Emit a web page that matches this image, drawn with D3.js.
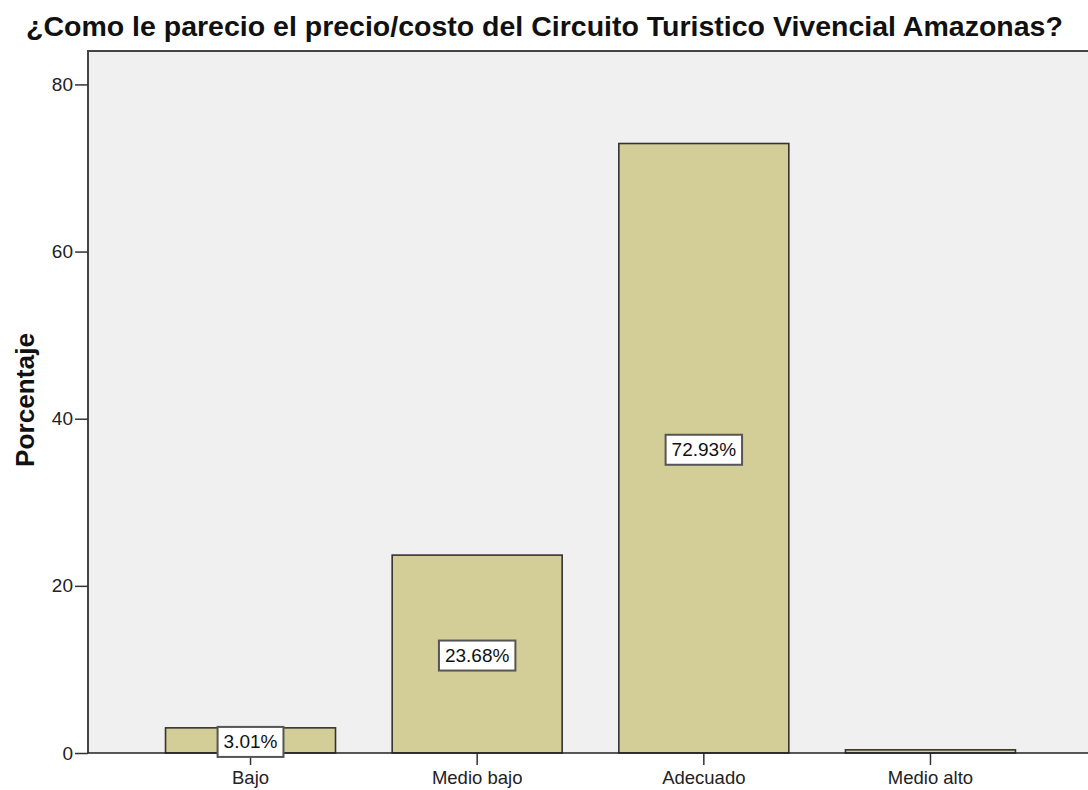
<!DOCTYPE html>
<html>
<head>
<meta charset="utf-8">
<script src="https://cdn.jsdelivr.net/npm/d3@7"></script>
<style>
  html, body { margin: 0; padding: 0; background: #ffffff; }
  svg { display: block; font-family: "Liberation Sans", Arial, sans-serif; }
</style>
</head>
<body>
<svg id="chart" width="1088" height="790"></svg>
<script>
const titleText = "¿Como le parecio el precio/costo del Circuito Turistico Vivencial Amazonas?";
const yLabel = "Porcentaje";
const categories = ["Bajo", "Medio bajo", "Adecuado", "Medio alto"];
const percentages = [3.01, 23.68, 72.93, 0.38];
const yTicks = [0, 20, 40, 60, 80];

const svg = d3.select("#chart");
const W = 1088, H = 790;
const plotLeft = 88, plotTop = 51, plotBottom = 753, plotRight = 1093;

const y = d3.scaleLinear().domain([0, 84]).range([plotBottom, plotTop]);
const x = d3.scaleBand().domain(categories).range([137.2, 1043.8]).paddingInner(0.25).paddingOuter(0.125);

// plot background
svg.append("rect")
  .attr("x", plotLeft).attr("y", plotTop)
  .attr("width", plotRight - plotLeft).attr("height", plotBottom - plotTop)
  .attr("fill", "#f0f0f0");

// frame (left and top)
svg.append("path")
  .attr("d", `M${plotLeft},${plotBottom} V${plotTop} H${plotRight}`)
  .attr("fill", "none").attr("stroke", "#444").attr("stroke-width", 2);

// bars
const data = categories.map((c, i) => ({ cat: c, v: percentages[i] }));
svg.append("g").selectAll("rect").data(data).join("rect")
  .attr("x", d => x(d.cat))
  .attr("y", d => y(d.v))
  .attr("width", x.bandwidth())
  .attr("height", d => y(0) - y(d.v))
  .attr("fill", "#d3ce97")
  .attr("stroke", "#333")
  .attr("stroke-width", 1.6);

// y axis
const yAxis = d3.axisLeft(y).tickValues(yTicks).tickSize(13).tickPadding(2).tickFormat(d3.format("d"));
const gy = svg.append("g").attr("transform", `translate(${plotLeft},0)`).call(yAxis);
gy.select(".domain").remove();
gy.selectAll(".tick line").attr("stroke", "#333").attr("stroke-width", 1.5);
gy.selectAll(".tick text").attr("font-size", "19px").attr("fill", "#222")
  .attr("font-family", "Liberation Sans, Arial, sans-serif");

// x axis
const xAxis = d3.axisBottom(x).tickSize(12).tickPadding(6);
const gx = svg.append("g").attr("transform", `translate(0,${plotBottom})`).call(xAxis);
gx.select(".domain").remove();
gx.selectAll(".tick line").attr("stroke", "#333").attr("stroke-width", 1.5);
gx.selectAll(".tick text").attr("font-size", "18.5px").attr("fill", "#222")
  .attr("font-family", "Liberation Sans, Arial, sans-serif");

// baseline
svg.append("line")
  .attr("x1", plotLeft).attr("x2", plotRight)
  .attr("y1", plotBottom).attr("y2", plotBottom)
  .attr("stroke", "#222").attr("stroke-width", 1.6);

// value labels
const lab = svg.append("g");
data.filter(d => d.v >= 1).forEach(d => {
  const cx = x(d.cat) + x.bandwidth() / 2;
  const cy = (y(d.v) + y(0)) / 2 + 1.5;
  const t = lab.append("text")
    .attr("x", cx).attr("y", cy)
    .attr("text-anchor", "middle").attr("dominant-baseline", "central")
    .attr("font-size", "19px").attr("fill", "#111")
    .text(d.v.toFixed(2) + "%");
  const w = t.node().getComputedTextLength();
  lab.insert("rect", "text")
    .attr("x", cx - w / 2 - 6).attr("y", cy - 15)
    .attr("width", w + 12).attr("height", 30)
    .attr("fill", "#fff").attr("stroke", "#555").attr("stroke-width", 2);
});
// bring texts above rects
lab.selectAll("text").raise();

// title
const tt = svg.append("text")
  .attr("x", 26).attr("y", 36)
  .attr("font-size", "25px").attr("font-weight", "bold").attr("fill", "#111")
  .text(titleText);
{
  const len = tt.node().getComputedTextLength();
  tt.attr("font-size", (25 * 1037 / len).toFixed(2) + "px");
}

// y label
const yl = svg.append("text")
  .attr("transform", "translate(34,400) rotate(-90)")
  .attr("text-anchor", "middle")
  .attr("font-size", "24px").attr("font-weight", "bold").attr("fill", "#111")
  .text(yLabel);
{
  const len = yl.node().getComputedTextLength();
  yl.attr("font-size", (24 * 134 / len).toFixed(2) + "px");
}
</script>
</body>
</html>
